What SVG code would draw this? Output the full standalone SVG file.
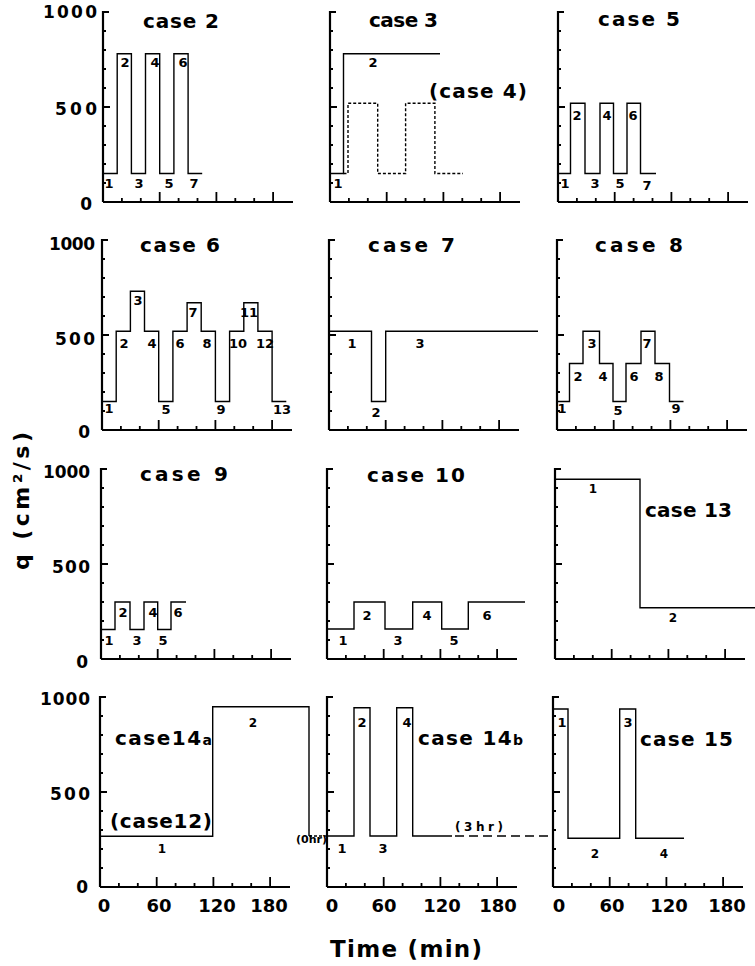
<svg xmlns="http://www.w3.org/2000/svg" xmlns:xlink="http://www.w3.org/1999/xlink" width="755" height="966" viewBox="0 0 755 966">
<style>
.ax{fill:none;stroke:#000;stroke-width:2.2}
.tk{fill:none;stroke:#000;stroke-width:1.8}
.ln{fill:none;stroke:#000;stroke-width:1.4}
.dsh{stroke-dasharray:3 2}
.ldsh{stroke-dasharray:9 5}
text{font-family:"DejaVu Sans","Liberation Sans",sans-serif;font-weight:bold;fill:#000}
.ttl{font-size:20px}
.num{font-size:13px;text-anchor:middle}
.sm{font-size:12px;text-anchor:middle}
.ytl{font-size:17px;text-anchor:end}
.xtl{font-size:18px;text-anchor:middle}
</style>
<defs>
<g id="axes">
<path class="ax" d="M0,0 V-190 h6 M0,0 H190"/>
<path class="tk" d="M0,-19 h3 M0,-38 h3 M0,-57 h3 M0,-76 h3 M0,-95 h7 M0,-114 h3 M0,-133 h3 M0,-152 h3 M0,-171 h3 M18.9,0 v-4 M37.8,0 v-4 M56.7,0 v-10 M75.6,0 v-4 M94.5,0 v-4 M113.4,0 v-10 M132.3,0 v-4 M151.2,0 v-4 M170.1,0 v-10"/>
</g>
</defs>
<rect width="755" height="966" fill="#fff"/>

<g id="y-labels">
<text class="ytl" x="97" y="18" textLength="54" lengthAdjust="spacing">1000</text>
<text class="ytl" x="97" y="115" textLength="42" lengthAdjust="spacing">500</text>
<text class="ytl" x="92" y="210">0</text>
<text class="ytl" x="95" y="250" textLength="46" lengthAdjust="spacing">1000</text>
<text class="ytl" x="95" y="345" textLength="40" lengthAdjust="spacing">500</text>
<text class="ytl" x="90" y="438">0</text>
<text class="ytl" x="90" y="478" textLength="47" lengthAdjust="spacing">1000</text>
<text class="ytl" x="90" y="573" textLength="38" lengthAdjust="spacing">500</text>
<text class="ytl" x="88" y="668">0</text>
<text class="ytl" x="90" y="705" textLength="50" lengthAdjust="spacing">1000</text>
<text class="ytl" x="90" y="800" textLength="40" lengthAdjust="spacing">500</text>
<text class="ytl" x="88" y="893">0</text>
<text transform="translate(29,501) rotate(-90)" style="font-size:22px;text-anchor:middle" textLength="138" lengthAdjust="spacing">q (cm²/s)</text>
</g>

<g id="x-labels">
<text class="xtl" x="104" y="912">0</text>
<text class="xtl" x="159" y="912">60</text>
<text class="xtl" x="217" y="912">120</text>
<text class="xtl" x="269" y="912">180</text>
<text class="xtl" x="332" y="912">0</text>
<text class="xtl" x="384" y="912">60</text>
<text class="xtl" x="442" y="912">120</text>
<text class="xtl" x="498" y="912">180</text>
<text class="xtl" x="559" y="912">0</text>
<text class="xtl" x="612" y="912">60</text>
<text class="xtl" x="669" y="912">120</text>
<text class="xtl" x="727" y="912">180</text>
<text x="330" y="957" style="font-size:23px" textLength="152" lengthAdjust="spacing">Time (min)</text>
</g>

<g id="case2">
<use xlink:href="#axes" x="103" y="202"/>
<path class="ln" transform="translate(103,202)" d="M0,-28.5 H14.2 V-148.2 H28.4 V-28.5 H42.5 V-148.2 H56.7 V-28.5 H70.9 V-148.2 H85.1 V-28.5 H99.2"/>
<text class="ttl" x="143" y="28" textLength="76" lengthAdjust="spacing">case 2</text>
<text class="num" x="109" y="188">1</text><text class="num" x="125" y="67">2</text>
<text class="num" x="139" y="188">3</text><text class="num" x="155" y="67">4</text>
<text class="num" x="169" y="188">5</text><text class="num" x="183" y="67">6</text>
<text class="num" x="194" y="188">7</text>
</g>

<g id="case3">
<use xlink:href="#axes" x="330" y="202"/>
<path class="ln" transform="translate(330,202)" d="M0,-28.5 H13.5 V-148.2 H110"/>
<path class="ln dsh" transform="translate(330,202)" d="M13.5,-28.5 H18 V-98.8 H47.7 V-28.5 H75.6 V-98.8 H104.9 V-28.5 H133"/>
<text class="ttl" x="369" y="27" textLength="69" lengthAdjust="spacing">case 3</text>
<text class="ttl" x="429" y="98" textLength="98" lengthAdjust="spacing">(case 4)</text>
<text class="num" x="338" y="188">1</text><text class="num" x="373" y="67">2</text>
</g>

<g id="case5">
<use xlink:href="#axes" x="558" y="202"/>
<path class="ln" transform="translate(558,202)" d="M0,-28.5 H12.5 V-98.8 H27 V-28.5 H42 V-98.8 H55.5 V-28.5 H69 V-98.8 H82.5 V-28.5 H98"/>
<text class="ttl" x="598" y="26" textLength="82" lengthAdjust="spacing">case 5</text>
<text class="num" x="565" y="188">1</text><text class="num" x="577" y="120">2</text>
<text class="num" x="595" y="188">3</text><text class="num" x="607" y="120">4</text>
<text class="num" x="620" y="188">5</text><text class="num" x="633" y="120">6</text>
<text class="num" x="647" y="190">7</text>
</g>

<g id="case6">
<use xlink:href="#axes" x="102" y="430"/>
<path class="ln" transform="translate(102,430)" d="M0,-28.5 H14.2 V-98.8 H28.4 V-138.7 H42.5 V-98.8 H56.7 V-28.5 H70.9 V-98.8 H85.1 V-127.3 H99.2 V-98.8 H113.4 V-28.5 H127.6 V-98.8 H141.8 V-127.3 H155.9 V-98.8 H170.1 V-28.5 H184.3"/>
<text class="ttl" x="140" y="252" textLength="80" lengthAdjust="spacing">case 6</text>
<text class="num" x="109" y="413">1</text><text class="num" x="124" y="348">2</text>
<text class="num" x="138" y="305">3</text><text class="num" x="152" y="348">4</text>
<text class="num" x="166" y="414">5</text><text class="num" x="180" y="348">6</text>
<text class="num" x="193" y="317">7</text><text class="num" x="207" y="348">8</text>
<text class="num" x="221" y="414">9</text><text class="num" x="238" y="348">10</text>
<text class="num" x="249" y="317">11</text><text class="num" x="265" y="348">12</text>
<text class="num" x="282" y="414">13</text>
</g>

<g id="case7">
<use xlink:href="#axes" x="329" y="430"/>
<path class="ln" transform="translate(329,430)" d="M0,-98.8 H42.5 V-28.5 H56.7 V-98.8 H209"/>
<text class="ttl" x="368" y="252" textLength="87" lengthAdjust="spacing">case 7</text>
<text class="num" x="352" y="348">1</text><text class="num" x="376" y="417">2</text>
<text class="num" x="420" y="348">3</text>
</g>

<g id="case8">
<use xlink:href="#axes" x="557" y="430"/>
<path class="ln" transform="translate(557,430)" d="M0,-28.5 H12.5 V-66.5 H26 V-98.8 H42.5 V-66.5 H56 V-28.5 H69 V-66.5 H84 V-98.8 H98 V-66.5 H112.5 V-28.5 H126.5"/>
<text class="ttl" x="595" y="252" textLength="88" lengthAdjust="spacing">case 8</text>
<text class="num" x="562" y="413">1</text><text class="num" x="578" y="381">2</text>
<text class="num" x="592" y="348">3</text><text class="num" x="603" y="381">4</text>
<text class="num" x="618" y="415">5</text><text class="num" x="634" y="381">6</text>
<text class="num" x="647" y="348">7</text><text class="num" x="659" y="381">8</text>
<text class="num" x="676" y="413">9</text>
</g>

<g id="case9">
<use xlink:href="#axes" x="101" y="659"/>
<path class="ln" transform="translate(101,659)" d="M0,-29.5 H14 V-57 H29 V-29.5 H43 V-57 H56.7 V-29.5 H70 V-57 H85"/>
<text class="ttl" x="140" y="481" textLength="88" lengthAdjust="spacing">case 9</text>
<text class="num" x="109" y="645">1</text><text class="num" x="123" y="617">2</text>
<text class="num" x="137" y="645">3</text><text class="num" x="153" y="617">4</text>
<text class="num" x="163" y="645">5</text><text class="num" x="178" y="617">6</text>
</g>

<g id="case10">
<use xlink:href="#axes" x="327" y="659"/>
<path class="ln" transform="translate(327,659)" d="M0,-30 H27 V-57 H58 V-30 H85.7 V-57 H114.7 V-30 H141.3 V-57 H198"/>
<text class="ttl" x="367" y="482" textLength="98" lengthAdjust="spacing">case 10</text>
<text class="num" x="343" y="645">1</text><text class="num" x="367" y="620">2</text>
<text class="num" x="398" y="645">3</text><text class="num" x="427" y="620">4</text>
<text class="num" x="454" y="645">5</text><text class="num" x="487" y="620">6</text>
</g>

<g id="case13">
<use xlink:href="#axes" x="555" y="659"/>
<path class="ln" transform="translate(555,659)" d="M0,-179.7 H85 V-51.3 H200"/>
<text class="ttl" x="645" y="517" textLength="87" lengthAdjust="spacing">case 13</text>
<text class="sm" x="593" y="493">1</text><text class="sm" x="673" y="622">2</text>
</g>

<g id="case14a">
<use xlink:href="#axes" x="100" y="887"/>
<path class="ln" transform="translate(100,887)" d="M0,-50.7 H112.7 V-180.3 H209 V-51"/>
<path class="ln dsh" transform="translate(100,887)" d="M209,-51 H227"/>
<text class="ttl" x="115" y="745" textLength="97" lengthAdjust="spacing">case14<tspan font-size="14">a</tspan></text>
<text class="ttl" x="110" y="828" textLength="102" lengthAdjust="spacing">(case12)</text>
<text class="sm" x="162" y="853">1</text><text class="sm" x="253" y="727">2</text>
<text x="296" y="843" style="font-size:11px" textLength="31" lengthAdjust="spacing">(0hr)</text>
</g>

<g id="case14b">
<use xlink:href="#axes" x="327" y="887"/>
<path class="ln" transform="translate(327,887)" d="M0,-51 H27 V-179.3 H43 V-51 H69.7 V-179.3 H85.7 V-51 H125"/>
<path class="ln ldsh" transform="translate(327,887)" d="M128,-51 H226"/>
<text class="ttl" x="418" y="745" textLength="105" lengthAdjust="spacing">case 14<tspan font-size="14">b</tspan></text>
<text class="num" x="342" y="853">1</text><text class="num" x="362" y="727">2</text>
<text class="num" x="383" y="853">3</text><text class="num" x="407" y="727">4</text>
<text x="455" y="831" style="font-size:12px" textLength="48" lengthAdjust="spacing">(3hr)</text>
</g>

<g id="case15">
<use xlink:href="#axes" x="553" y="887"/>
<path class="ln" transform="translate(553,887)" d="M0,-178 H15 V-48.7 H66.7 V-178 H82.7 V-48.7 H131"/>
<text class="ttl" x="640" y="746" textLength="93" lengthAdjust="spacing">case 15</text>
<text class="num" x="562" y="727">1</text><text class="num" x="628" y="727">3</text>
<text class="sm" x="595" y="858">2</text><text class="sm" x="664" y="858">4</text>
</g>
</svg>
